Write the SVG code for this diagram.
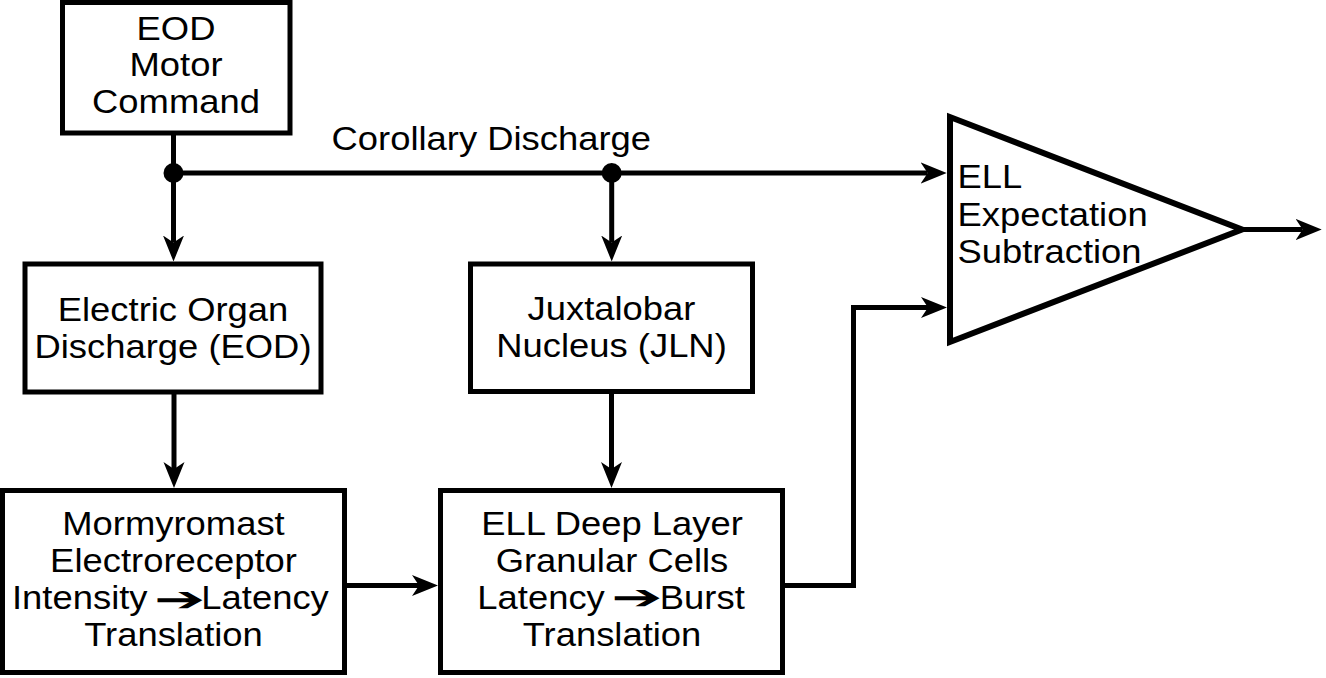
<svg xmlns="http://www.w3.org/2000/svg" width="1326" height="678" viewBox="0 0 1326 678">
<style>
.box{fill:#fff;stroke:#000;stroke-width:5}
.tri{fill:#fff;stroke:#000;stroke-width:6;stroke-linejoin:miter}
.t{font-family:"Liberation Sans",Arial,Helvetica,sans-serif;font-size:32.5px;fill:#000}
.m{text-anchor:middle}
.sym{font-family:"DejaVu Sans",sans-serif;font-weight:bold;font-size:34px;fill:#000;text-anchor:middle}
.c{fill:none;stroke:#000;stroke-width:5}
</style>
<defs>
<marker id="ah" markerUnits="userSpaceOnUse" viewBox="0 -11 27 22" refX="7" refY="0" markerWidth="27" markerHeight="22" orient="auto">
<path d="M0,-10.5 L26,0 L0,10.5 L7,0 Z" fill="#000"/>
</marker>
</defs>
<rect width="1326" height="678" fill="#fff"/>
<g id="connectors">
<line class="c" x1="173.5" y1="133" x2="173.5" y2="242.5" marker-end="url(#ah)"/>
<line class="c" x1="173.5" y1="173" x2="927.7" y2="173" marker-end="url(#ah)"/>
<line class="c" x1="611.7" y1="173" x2="611.7" y2="242.5" marker-end="url(#ah)"/>
<line class="c" x1="174" y1="392" x2="174" y2="469" marker-end="url(#ah)"/>
<line class="c" x1="611.5" y1="391.5" x2="611.5" y2="469" marker-end="url(#ah)"/>
<line class="c" x1="344.5" y1="585.5" x2="419" y2="585.5" marker-end="url(#ah)"/>
<path class="c" d="M782.5,585.5 H853.5 V307.5 H928" marker-end="url(#ah)"/>
<line class="c" x1="1242" y1="229.5" x2="1302.7" y2="229.5" marker-end="url(#ah)"/>
<circle cx="173.5" cy="173" r="10" fill="#000"/>
<circle cx="611.7" cy="173" r="10" fill="#000"/>
<text class="t" transform="translate(331.5 149.5) scale(1.12 1)">Corollary Discharge</text>
</g>
<g id="eod-motor-command">
<rect class="box" x="62.5" y="2.5" width="227.5" height="130.5"/>
<text class="t m" transform="translate(176 39.5) scale(1.12 1)">EOD</text>
<text class="t m" transform="translate(176 76) scale(1.12 1)">Motor</text>
<text class="t m" transform="translate(176 113) scale(1.12 1)">Command</text>
</g>
<g id="electric-organ-discharge">
<rect class="box" x="25" y="264" width="296" height="128"/>
<text class="t m" transform="translate(173 321) scale(1.12 1)">Electric Organ</text>
<text class="t m" transform="translate(173 358) scale(1.12 1)">Discharge (EOD)</text>
</g>
<g id="juxtalobar-nucleus">
<rect class="box" x="470.5" y="264" width="282" height="127.5"/>
<text class="t m" transform="translate(611.5 320) scale(1.12 1)">Juxtalobar</text>
<text class="t m" transform="translate(611.5 357) scale(1.12 1)">Nucleus (JLN)</text>
</g>
<g id="mormyromast-electroreceptor">
<rect class="box" x="2.5" y="490.5" width="342" height="182"/>
<text class="t m" transform="translate(173.5 535) scale(1.12 1)">Mormyromast</text>
<text class="t m" transform="translate(173.5 572) scale(1.12 1)">Electroreceptor</text>
<text class="t" transform="translate(12 609) scale(1.12 1)">Intensity</text>
<text class="sym" transform="translate(179.7 610.5) scale(1.8 1)">➔</text>
<text class="t" transform="translate(201.3 609) scale(1.12 1)">Latency</text>
<text class="t m" transform="translate(173.5 646) scale(1.12 1)">Translation</text>
</g>
<g id="ell-deep-layer">
<rect class="box" x="440.5" y="490.5" width="342" height="182"/>
<text class="t m" transform="translate(612 535) scale(1.12 1)">ELL Deep Layer</text>
<text class="t m" transform="translate(612 572) scale(1.12 1)">Granular Cells</text>
<text class="t" transform="translate(477.3 609) scale(1.12 1)">Latency</text>
<text class="sym" transform="translate(637 608.5) scale(1.8 1)">➔</text>
<text class="t" transform="translate(659.8 609) scale(1.12 1)">Burst</text>
<text class="t m" transform="translate(612 646) scale(1.12 1)">Translation</text>
</g>
<g id="ell-expectation-subtraction">
<polygon class="tri" points="950,117 950,342 1242,229.5"/>
<text class="t" transform="translate(957.5 188.3) scale(1.12 1)">ELL</text>
<text class="t" transform="translate(957.5 226) scale(1.12 1)">Expectation</text>
<text class="t" transform="translate(957.5 263) scale(1.12 1)">Subtraction</text>
</g>
</svg>
